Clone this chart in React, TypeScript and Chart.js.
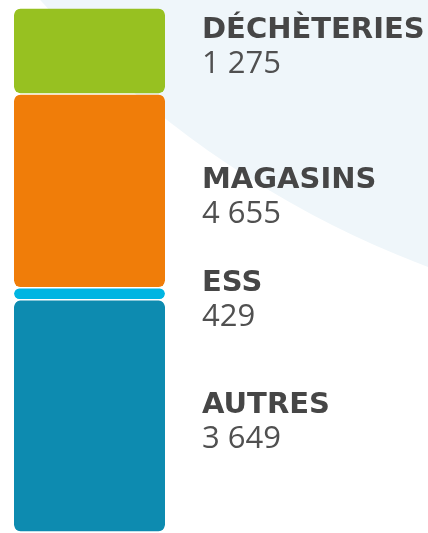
import React, { useEffect, useRef } from "react";
import { Chart, registerables } from "chart.js";

Chart.register(...registerables);

// Category names shown at the right of the bar
const categories = ["DÉCHÈTERIES", "MAGASINS", "ESS", "AUTRES"];
// Counts written under each name
const counts = [1275, 4655, 429, 3649];
// Share of the bar height each segment takes in the picture (%)
const barShares = [16.4, 37.0, 2.3, 44.3];
// Segment colours
const colors = ["#97c121", "#f07d09", "#00b5e2", "#0d8bb0"];
// Small vertical nudges for the labels (px)
const labelNudge = [-10, 0, 0, 0];

const fmt = (n: number) => String(n).replace(/\B(?=(\d{3})+(?!\d))/g, " ");

const backgroundPlugin = {
  id: "bgShape",
  beforeDraw(chart: any) {
    const { ctx } = chart;
    ctx.save();
    ctx.fillStyle = "#eff6fa";
    ctx.beginPath();
    ctx.arc(770, -645, 974, 0, Math.PI * 2);
    ctx.fill();
    ctx.restore();
  },
};

const labelPlugin = {
  id: "sideLabels",
  afterDatasetsDraw(chart: any) {
    const { ctx } = chart;
    ctx.save();
    ctx.textAlign = "left";
    ctx.textBaseline = "alphabetic";
    chart.data.datasets.forEach((ds: any, i: number) => {
      const el = chart.getDatasetMeta(i).data[0];
      if (!el) return;
      const { y, base } = el.getProps(["y", "base"], true);
      const center = (y + base) / 2;
      const titleY = center - 3 + labelNudge[i];
      ctx.fillStyle = "#464646";
      ctx.font = "bold 29px 'DejaVu Sans'";
      ctx.fillText(categories[i], 202, titleY);
      ctx.fillStyle = "#505050";
      ctx.font = "31px 'Open Sans'";
      ctx.fillText(fmt(counts[i]), 202, titleY + 35);
    });
    ctx.restore();
  },
};

export default function App() {
  const ref = useRef<HTMLCanvasElement | null>(null);

  useEffect(() => {
    if (!ref.current) return;
    let acc = 0;
    const ranges = barShares.map((s) => {
      const r = [acc, acc + s];
      acc += s;
      return r;
    });
    const chart = new Chart(ref.current, {
      type: "bar",
      data: {
        labels: [""],
        datasets: categories.map((c, i) => ({
          label: c,
          data: [ranges[i]] as any,
          backgroundColor: colors[i],
          borderColor: "rgba(0,0,0,0)",
          borderWidth: { top: 0.75, bottom: 0.75, left: 0, right: 0 },
          borderSkipped: false,
          borderRadius: 7,
          inflateAmount: 0,
          grouped: false,
          barPercentage: 1,
          categoryPercentage: 1,
        })),
      },
      options: {
        animation: false,
        responsive: true,
        maintainAspectRatio: false,
        layout: { padding: { top: 8, bottom: 1, left: 14, right: 263 } },
        plugins: { legend: { display: false }, tooltip: { enabled: false } },
        scales: {
          x: { display: false },
          y: { display: false, reverse: true, min: 0, max: 100 },
        },
      },
      plugins: [backgroundPlugin, labelPlugin],
    } as any);
    return () => chart.destroy();
  }, []);

  return (
    <div style={{ position: "fixed", left: 0, top: 0, width: 428, height: 533, background: "#ffffff" }}>
      <canvas ref={ref} />
    </div>
  );
}
